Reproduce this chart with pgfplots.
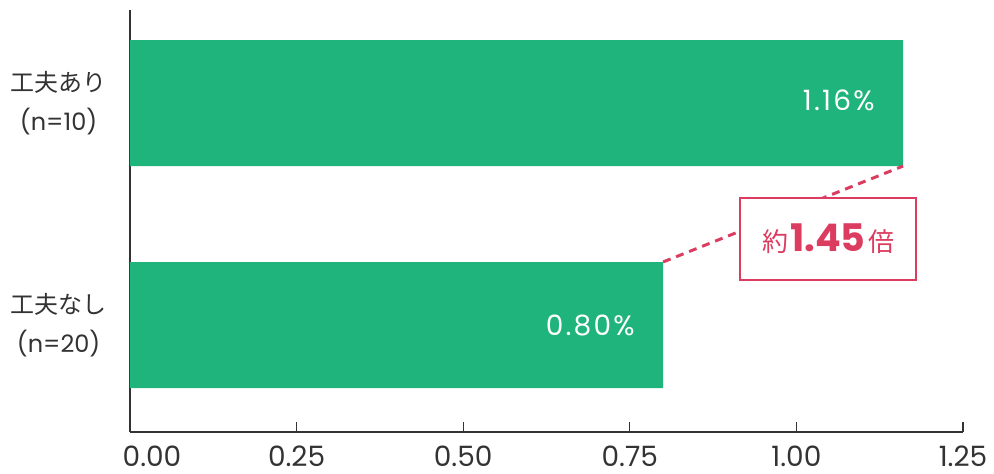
\documentclass[border=0pt]{standalone}
\usepackage{pgfplots}
\pgfplotsset{compat=1.18}
\usepackage{fontspec}
\setmainfont{Poppins}
\newfontfamily\jp{Noto Sans CJK JP}
\newfontfamily\spaced[LetterSpace=8]{Poppins}
\definecolor{bargreen}{HTML}{1EB47B}
\definecolor{annred}{HTML}{DC3C60}
\definecolor{txt}{HTML}{333333}
\begin{document}
\begin{tikzpicture}
\begin{axis}[
  scale only axis,
  width=416.5pt, height=211pt,
  xbar, bar width=63pt,
  xmin=0, xmax=1.25,
  ymin=-0.482, ymax=1.419,
  axis lines*=left,
  axis line style={draw=black!80, line width=0.7pt},
  xtick={0.25,0.5,0.75,1,1.25},
  extra x ticks={0},
  extra x tick style={xticklabel style={xshift=11pt}},
  /pgf/number format/fixed,
  /pgf/number format/fixed zerofill,
  /pgf/number format/precision=2,
  /pgf/number format/assume math mode=true,
  xticklabel style={font=\fontsize{14}{15}\selectfont, text=txt, yshift=-3.5pt},
  tick align=inside,
  major tick length=5pt,
  tick style={draw=black!80, line width=0.6pt},
  ytick={0,1},
  yticklabels={{{\jp 工夫なし}\\(n=20)},{{\jp 工夫あり}\\(n=10)}},
  yticklabel style={align=center, font=\fontsize{12}{19.5}\selectfont, text=txt, inner sep=0pt, xshift=-11.5pt},
  ytick style={draw=none},
  clip=false,
]
\addplot[fill=bargreen, draw=none] coordinates {(0.80,0) (1.16,1)};
\node[anchor=east, inner sep=0pt, text=white, font=\spaced\fontsize{14}{15}\selectfont] at (axis cs:0.80,0) [xshift=-14pt] {0.80\%};
\node[anchor=east, inner sep=0pt, text=white, font=\spaced\fontsize{14}{15}\selectfont] at (axis cs:1.16,1) [xshift=-14pt, yshift=1.5pt] {1.16\%};
\draw[annred, line width=1.5pt, dash pattern=on 4pt off 3pt] (axis cs:0.80,0.284) -- (axis cs:1.16,0.716);
\node[draw=annred, line width=1pt, fill=white, minimum width=88pt, minimum height=41pt, inner sep=0pt, text=annred]
  at (axis cs:1.048,0.387) {{\jp\fontsize{13}{14}\selectfont 約}\kern1pt{\fontsize{19}{20}\selectfont\bfseries 1.45}\kern1.5pt{\jp\fontsize{13}{14}\selectfont 倍}};
\end{axis}
\path (current axis.south west) ++(-65pt,-19.5pt) rectangle ++(497pt,235.5pt);
\end{tikzpicture}
\end{document}
